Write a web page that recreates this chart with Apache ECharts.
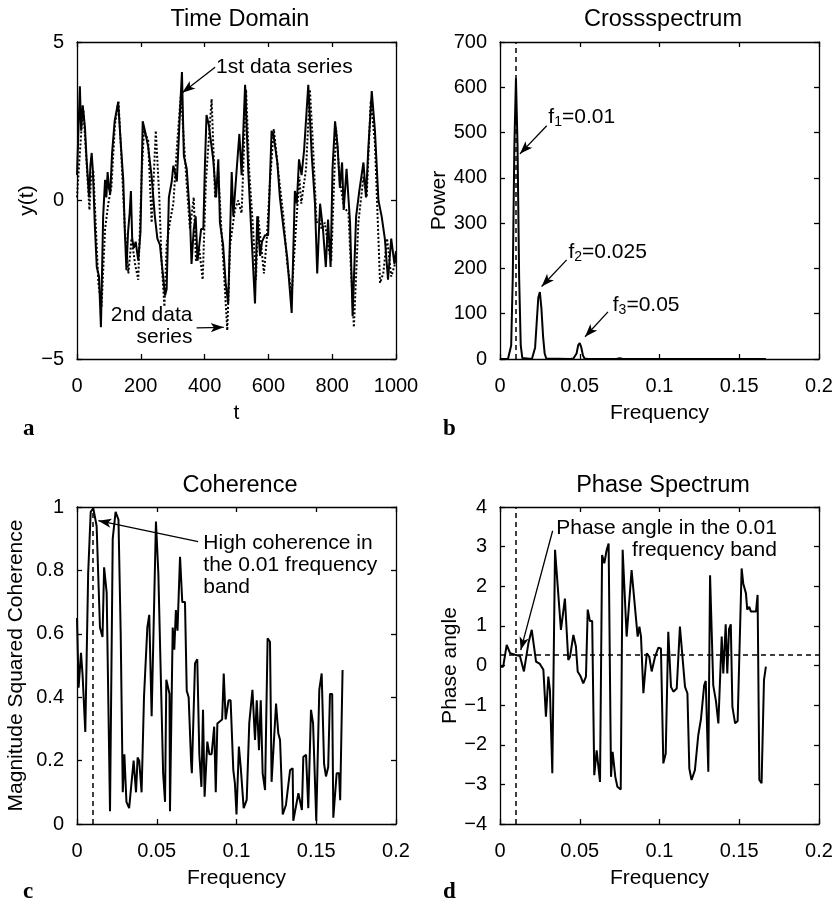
<!DOCTYPE html>
<html>
<head>
<meta charset="utf-8">
<script src="https://cdn.jsdelivr.net/npm/echarts@6/dist/echarts.min.js"></script>
<style>
  html, body { margin: 0; padding: 0; background: #fff; }
  #chart { width: 837px; height: 904px; }
</style>
</head>
<body>
<div id="chart"></div>
<script>
// ---- time domain: [t, y] samples of the two series ----
const series1 = [[0,0.8],[9,3.6],[13,2.2],[18,3.0],[25,2.3],[30,1.3],[38,0.1],[42,1.1],[46,1.5],[50,0.9],[56,-0.8],[62,-2.1],[69,-2.4],[75,-4.0],[82,-0.5],[88,0.65],[92,0.1],[96,0.9],[100,0.4],[104,0.2],[110,1.5],[118,2.5],[129,3.1],[136,2.0],[145,0.65],[150,-1.0],[155,-2.2],[160,-1.0],[165,-0.4],[169,0.3],[173,-1.2],[178,-1.5],[184,-1.3],[192,-1.9],[199,-1.0],[206,2.5],[213,2.2],[223,1.7],[234,0.75],[244,-0.5],[252,-1.2],[260,-1.4],[268,-2.2],[276,-3.0],[281,-2.8],[288,0.1],[297,0.6],[302,1.1],[307,0.9],[313,0.6],[321,2.4],[329,4.05],[335,1.4],[344,1.0],[354,-0.5],[359,-2.0],[366,-0.9],[372,-0.5],[378,-1.9],[389,-0.9],[396,-0.9],[401,1.1],[406,2.7],[413,2.4],[427,1.3],[436,0.1],[443,1.3],[448,-0.7],[458,-1.4],[466,-2.6],[474,-3.25],[485,0.9],[490,-0.5],[500,0.9],[509,2.1],[516,0.8],[527,3.65],[537,0.9],[547,-1.1],[558,-3.25],[565,-0.5],[574,-1.75],[580,-1.3],[589,-1.1],[599,-1.1],[610,2.2],[617,2.0],[628,1.2],[636,0.1],[647,-0.85],[659,-1.8],[673,-3.55],[683,0.3],[689,-0.1],[696,1.3],[704,0.8],[712,1.6],[725,3.65],[736,1.4],[746,-0.1],[753,-2.3],[762,-0.1],[771,-0.9],[780,-2.1],[787,-0.6],[795,-2.1],[801,1.0],[809,2.5],[817,1.7],[824,0.4],[831,1.2],[836,-0.3],[845,1.0],[856,-0.7],[864,-3.65],[875,-0.5],[885,0.3],[898,1.2],[906,0.1],[913,1.6],[924,3.45],[934,2.2],[945,0.0],[955,-0.5],[965,-1.2],[975,-2.5],[985,-1.2],[995,-2.0],[1000,-1.6]];
const series2 = [[0,0.1],[7,1.2],[15,2.4],[20,2.85],[25,2.0],[30,1.2],[39,-0.3],[44,0.7],[51,0.95],[58,-0.6],[67,-2.6],[77,-3.35],[88,-0.9],[98,-0.1],[108,0.45],[119,2.4],[130,3.15],[140,1.2],[150,-0.9],[161,-2.3],[171,-1.2],[182,-2.0],[192,-2.5],[203,0.9],[210,2.2],[223,1.9],[234,-0.7],[247,2.2],[258,0.1],[265,-1.9],[274,-3.35],[281,-1.4],[291,-0.7],[302,-0.1],[314,1.8],[326,3.4],[333,2.2],[343,0.65],[354,-0.9],[366,0.1],[373,-1.9],[383,-1.5],[394,-2.5],[404,0.6],[422,3.2],[433,0.1],[443,0.9],[452,-0.8],[462,-2.5],[471,-4.1],[480,-1.4],[495,-0.3],[505,0.0],[516,-0.4],[530,3.5],[540,0.9],[552,-0.9],[561,-2.5],[568,-0.5],[578,-1.5],[586,-2.3],[595,-1.2],[605,0.6],[617,2.25],[631,0.9],[638,0.3],[647,-0.5],[659,-2.0],[673,-2.95],[688,-0.6],[697,0.75],[703,-0.1],[718,1.0],[730,3.5],[739,1.9],[751,-0.7],[760,-0.6],[767,-0.9],[777,-0.7],[788,-1.5],[797,-1.9],[812,2.3],[824,0.6],[837,-0.2],[851,-0.4],[858,-2.0],[868,-4.0],[882,-0.7],[898,0.75],[908,0.1],[921,3.15],[934,1.8],[950,-2.6],[960,-2.3],[972,-1.2],[985,-2.4],[1000,-1.9]];

// ---- cross spectrum: [frequency, power] ----
const crossPower = [[0,0],[0.005,0],[0.006,2],[0.007,30],[0.008,180],[0.009,470],[0.010,620],[0.011,470],[0.012,180],[0.013,30],[0.014,2],[0.015,0],[0.020,0],[0.021,2],[0.022,25],[0.023,80],[0.024,135],[0.025,148],[0.026,110],[0.027,50],[0.028,12],[0.029,1],[0.030,0],[0.044,0],[0.046,1],[0.047,3],[0.048,12],[0.049,30],[0.050,35],[0.051,25],[0.052,8],[0.053,1],[0.055,0],[0.073,0],[0.075,2],[0.077,0],[0.1667,0]];

// ---- magnitude squared coherence: [frequency, value] ----
const coherence = [[0,0.65],[0.001,0.43],[0.0025,0.54],[0.0035,0.47],[0.0052,0.29],[0.007,0.79],[0.0086,0.985],[0.0102,0.996],[0.0123,0.94],[0.0144,0.62],[0.016,0.59],[0.017,0.81],[0.0186,0.73],[0.0207,0.04],[0.0224,0.9],[0.0242,0.985],[0.026,0.96],[0.0274,0.6],[0.0287,0.1],[0.0297,0.22],[0.031,0.07],[0.0327,0.05],[0.034,0.12],[0.0355,0.2],[0.037,0.1],[0.038,0.21],[0.039,0.2],[0.0405,0.1],[0.042,0.4],[0.0441,0.62],[0.0453,0.66],[0.0468,0.34],[0.0495,0.954],[0.051,0.79],[0.052,0.58],[0.054,0.16],[0.0552,0.07],[0.056,0.455],[0.058,0.41],[0.0583,0.04],[0.060,0.62],[0.061,0.55],[0.062,0.675],[0.063,0.61],[0.0646,0.843],[0.066,0.7],[0.0677,0.7],[0.0688,0.42],[0.070,0.4],[0.0715,0.2],[0.072,0.16],[0.074,0.507],[0.0754,0.52],[0.0767,0.22],[0.078,0.117],[0.079,0.36],[0.080,0.086],[0.0817,0.26],[0.083,0.22],[0.0844,0.22],[0.086,0.307],[0.087,0.1],[0.088,0.317],[0.091,0.33],[0.092,0.475],[0.0932,0.33],[0.095,0.39],[0.0963,0.39],[0.098,0.17],[0.099,0.128],[0.1,0.03],[0.1015,0.244],[0.1027,0.176],[0.1045,0.05],[0.1064,0.076],[0.108,0.318],[0.110,0.423],[0.1116,0.265],[0.1127,0.39],[0.1141,0.233],[0.1152,0.39],[0.1164,0.16],[0.1179,0.107],[0.1195,0.586],[0.121,0.575],[0.122,0.133],[0.1235,0.265],[0.1248,0.38],[0.1262,0.286],[0.1273,0.265],[0.129,0.03],[0.131,0.06],[0.1336,0.17],[0.1352,0.176],[0.1356,0.01],[0.1388,0.097],[0.141,0.044],[0.1419,0.212],[0.1436,0.218],[0.145,0.05],[0.1467,0.36],[0.148,0.318],[0.150,0.01],[0.1519,0.423],[0.1534,0.475],[0.1549,0.19],[0.1561,0.15],[0.1575,0.18],[0.1586,0.41],[0.16,0.41],[0.1607,0.02],[0.1628,0.16],[0.1643,0.16],[0.165,0.075],[0.1665,0.486]];

// ---- phase spectrum: [frequency, phase angle] ----
const phase = [[0,-0.03],[0.002,-0.03],[0.0042,0.52],[0.0063,0.31],[0.0094,0.27],[0.0125,0.24],[0.015,-0.15],[0.0178,0.56],[0.0199,0.9],[0.0226,0.1],[0.025,0.04],[0.0272,-0.11],[0.0288,-1.29],[0.0303,-0.28],[0.0313,-0.62],[0.0328,-2.72],[0.0345,2.92],[0.0355,2.96],[0.0382,0.9],[0.0407,1.69],[0.0428,0.14],[0.0439,0.22],[0.046,0.77],[0.0476,0.48],[0.0487,-0.15],[0.0506,-0.28],[0.0522,-0.45],[0.0539,-0.28],[0.055,1.41],[0.0564,1.12],[0.0578,1.12],[0.0591,-2.77],[0.0606,-2.14],[0.0627,-2.94],[0.064,2.79],[0.0654,2.58],[0.0669,2.92],[0.0681,3.08],[0.0696,-2.81],[0.0706,-2.18],[0.0723,-2.81],[0.0736,-3.06],[0.0757,-3.13],[0.0769,2.92],[0.0794,0.73],[0.0825,2.41],[0.0846,1.48],[0.0863,0.73],[0.0874,0.98],[0.0884,0.73],[0.0899,-0.7],[0.092,0.31],[0.0936,0.22],[0.0951,-0.15],[0.0972,0.22],[0.0993,0.45],[0.1009,0.43],[0.1024,-2.47],[0.1039,-2.22],[0.1055,0.85],[0.1072,-0.54],[0.1087,-0.66],[0.1108,-0.58],[0.1128,0.98],[0.1135,0.98],[0.116,-0.54],[0.1175,-0.7],[0.1187,-2.6],[0.1201,-2.89],[0.1222,-2.64],[0.1243,-1.76],[0.126,-1.35],[0.128,-0.5],[0.129,-0.39],[0.1306,-2.68],[0.1317,2.28],[0.1337,-0.5],[0.1354,-0.9],[0.1369,-1.46],[0.139,0.73],[0.14,-0.2],[0.1415,1.04],[0.1425,-0.2],[0.1436,0.92],[0.1447,1.04],[0.1457,-1.04],[0.1474,-1.46],[0.149,-1.4],[0.1515,2.45],[0.1525,2.07],[0.1542,1.82],[0.155,1.41],[0.1563,1.48],[0.1573,1.36],[0.1588,1.36],[0.1605,1.36],[0.1615,1.78],[0.1626,-2.89],[0.164,-2.97],[0.1655,-0.37],[0.1667,-0.03]];

// reference levels
const bandFreq = 0.01;      // dominant frequency band
const phaseLevel = 0.27;    // phase angle in that band

const FONT = '"Liberation Sans", Arial, Helvetica, sans-serif';
const INK = '#000';

function fmt(v) {
  const s = String(+(+v).toFixed(4));
  return s.replace('-', '\u2212');
}

function xPair(grid, min, max, interval, name, gap) {
  const base = {
    gridIndex: grid, type: 'value', min, max, interval,
    axisLine: { show: true, onZero: false, lineStyle: { color: INK, width: 1.3 } },
    axisTick: { show: true, inside: true, length: 5, lineStyle: { color: INK, width: 1.3 } },
    splitLine: { show: false }
  };
  return [
    Object.assign({}, base, {
      position: 'bottom', name, nameLocation: 'middle', nameGap: gap,
      nameTextStyle: { color: INK, fontSize: 21, fontFamily: FONT },
      axisLabel: { color: INK, fontSize: 20, fontFamily: FONT, margin: 17, formatter: fmt }
    }),
    Object.assign({}, base, { position: 'top', axisLabel: { show: false } })
  ];
}

function yPair(grid, min, max, interval, name, gap) {
  const base = {
    gridIndex: grid, type: 'value', min, max, interval,
    axisLine: { show: true, onZero: false, lineStyle: { color: INK, width: 1.3 } },
    axisTick: { show: true, inside: true, length: 5, lineStyle: { color: INK, width: 1.3 } },
    splitLine: { show: false }
  };
  return [
    Object.assign({}, base, {
      position: 'left', name, nameLocation: 'middle', nameGap: gap,
      nameTextStyle: { color: INK, fontSize: 21, fontFamily: FONT },
      axisLabel: { color: INK, fontSize: 20, fontFamily: FONT, margin: 13, formatter: fmt }
    }),
    Object.assign({}, base, { position: 'right', axisLabel: { show: false } })
  ];
}

function arrow(from, to) {
  return [
    { coord: from, symbol: 'none' },
    { coord: to, symbol: 'arrow', symbolSize: [7, 13] }
  ];
}

const dashStyle = { color: INK, width: 1.5, type: [5, 4] };

const textStyle = { color: INK, fontSize: 21, fontFamily: FONT };

function note(coord, text, align) {
  return {
    coord, symbol: 'circle', symbolSize: 0,
    label: Object.assign({
      show: true, position: [0, 0], formatter: text, align: align || 'left',
      verticalAlign: 'middle', lineHeight: 22
    }, textStyle)
  };
}

const subRich = {
  sub: { fontSize: 14, fontFamily: FONT, color: INK, verticalAlign: 'bottom', padding: [10, 0, 0, 0] },
  n: { fontSize: 21, fontFamily: FONT, color: INK }
};

function fLabel(coord, idx, value) {
  return {
    coord, symbol: 'circle', symbolSize: 0,
    label: {
      show: true, position: [0, 0], align: 'left', verticalAlign: 'middle',
      formatter: '{n|f}{sub|' + idx + '}{n|=' + value + '}', rich: subRich
    }
  };
}

const option = {
  animation: false,
  backgroundColor: '#fff',
  title: [
    { text: 'Time Domain', left: 235, top: 3 },
    { text: 'Crossspectrum', left: 658, top: 3 },
    { text: 'Coherence', left: 235, top: 469 },
    { text: 'Phase Spectrum', left: 658, top: 469 }
  ].map(t => Object.assign(t, {
    textAlign: 'center',
    textStyle: { color: INK, fontSize: 23.5, fontWeight: 'normal', fontFamily: FONT }
  })),
  grid: [
    { left: 77, top: 42, width: 319, height: 317 },
    { left: 500, top: 42, width: 319, height: 317 },
    { left: 77, top: 507, width: 319, height: 317 },
    { left: 500, top: 507, width: 319, height: 317 }
  ],
  xAxis: [].concat(
    xPair(0, 0, 1000, 200, 't', 44),
    xPair(1, 0, 0.2, 0.05, 'Frequency', 44),
    xPair(2, 0, 0.2, 0.05, 'Frequency', 44),
    xPair(3, 0, 0.2, 0.05, 'Frequency', 44)
  ),
  yAxis: [].concat(
    yPair(0, -5, 5, 5, 'y(t)', 30),
    yPair(1, 0, 700, 100, 'Power', 50),
    yPair(2, 0, 1, 0.2, 'Magnitude Squared Coherence', 50),
    yPair(3, -4, 4, 1, 'Phase angle', 33)
  ),
  series: [
    {
      name: '2nd data series', type: 'line', xAxisIndex: 0, yAxisIndex: 0,
      data: series2, showSymbol: false, symbol: 'none',
      lineStyle: { color: INK, width: 2, type: [2, 2] }
    },
    {
      name: '1st data series', type: 'line', xAxisIndex: 0, yAxisIndex: 0,
      data: series1, showSymbol: false, symbol: 'none',
      lineStyle: { color: INK, width: 2 },
      markLine: {
        silent: true, animation: false,
        lineStyle: { color: INK, width: 1.3, type: 'solid' },
        label: { show: false },
        data: [arrow([433, 4.2], [330, 3.4]), arrow([375, -4.02], [460, -4.0])]
      },
      markPoint: {
        silent: true,
        data: [
          note([436, 4.2], '1st data series'),
          note([362, -3.95], '2nd data\nseries', 'right')
        ]
      }
    },
    {
      name: 'Crossspectrum', type: 'line', xAxisIndex: 2, yAxisIndex: 2,
      data: crossPower, showSymbol: false, symbol: 'none',
      lineStyle: { color: INK, width: 2 },
      markLine: {
        silent: true, animation: false, symbol: 'none',
        label: { show: false },
        data: [
          { xAxis: bandFreq, lineStyle: dashStyle },
          arrow([0.0293, 515], [0.0125, 453]),
          arrow([0.0418, 219], [0.0261, 160]),
          arrow([0.0677, 104], [0.0533, 49])
        ],
        lineStyle: { color: INK, width: 1.3, type: 'solid' }
      },
      markPoint: {
        silent: true,
        data: [
          fLabel([0.0303, 535], 1, '0.01'),
          fLabel([0.0429, 235], 2, '0.025'),
          fLabel([0.0707, 118], 3, '0.05')
        ]
      }
    },
    {
      name: 'Coherence', type: 'line', xAxisIndex: 4, yAxisIndex: 4,
      data: coherence, showSymbol: false, symbol: 'none',
      lineStyle: { color: INK, width: 2 },
      markLine: {
        silent: true, animation: false, symbol: 'none',
        label: { show: false },
        lineStyle: { color: INK, width: 1.3, type: 'solid' },
        data: [
          { xAxis: bandFreq, lineStyle: dashStyle },
          arrow([0.0759, 0.891], [0.0134, 0.957])
        ]
      },
      markPoint: {
        silent: true,
        data: [note([0.0792, 0.815], 'High coherence in\nthe 0.01 frequency\nband')]
      }
    },
    {
      name: 'Phase', type: 'line', xAxisIndex: 6, yAxisIndex: 6,
      data: phase, showSymbol: false, symbol: 'none',
      lineStyle: { color: INK, width: 2 },
      markLine: {
        silent: true, animation: false, symbol: 'none',
        label: { show: false },
        lineStyle: { color: INK, width: 1.3, type: 'solid' },
        data: [
          { xAxis: bandFreq, lineStyle: dashStyle },
          { yAxis: phaseLevel, lineStyle: dashStyle },
          arrow([0.033, 3.4], [0.013, 0.39])
        ]
      },
      markPoint: {
        silent: true,
        data: [note([0.1736, 3.18], 'Phase angle in the 0.01\nfrequency band', 'right')]
      }
    }
  ],
  graphic: [
    { type: 'text', left: 23, top: 418, style: { text: 'a', font: 'bold 23px "Liberation Serif", "Times New Roman", serif', fill: INK } },
    { type: 'text', left: 443, top: 418, style: { text: 'b', font: 'bold 23px "Liberation Serif", "Times New Roman", serif', fill: INK } },
    { type: 'text', left: 23, top: 881, style: { text: 'c', font: 'bold 23px "Liberation Serif", "Times New Roman", serif', fill: INK } },
    { type: 'text', left: 443, top: 881, style: { text: 'd', font: 'bold 23px "Liberation Serif", "Times New Roman", serif', fill: INK } }
  ]
};

const chart = echarts.init(document.getElementById('chart'), null, { renderer: 'canvas' });
chart.setOption(option);
</script>
</body>
</html>
